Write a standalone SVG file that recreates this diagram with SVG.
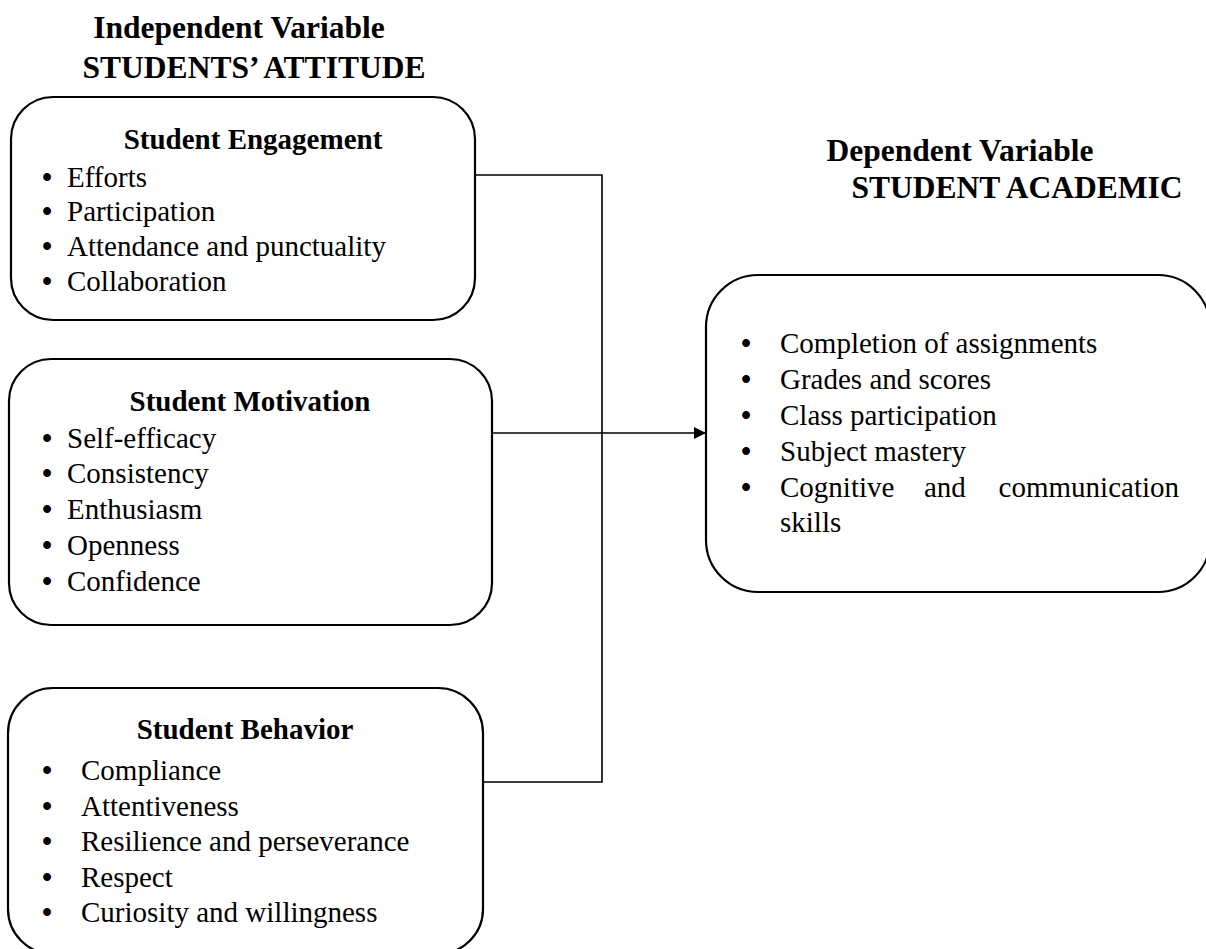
<svg xmlns="http://www.w3.org/2000/svg" width="1206" height="949" viewBox="0 0 1206 949">
<style>
.box{fill:#fff;stroke:#000;stroke-width:2.2}
.t{font-family:"Liberation Serif","Times New Roman",serif;font-size:29px;fill:#000}
.b{font-family:"Liberation Serif","Times New Roman",serif;font-size:29px;font-weight:bold;fill:#000}
.h{font-family:"Liberation Serif","Times New Roman",serif;font-size:29px;font-weight:bold;fill:#000}
.hh{font-family:"Liberation Serif","Times New Roman",serif;font-size:31.5px;font-weight:bold;fill:#000}
.c{stroke:#000;stroke-width:1.6;fill:none}
</style>
<defs>
<marker id="arr" markerWidth="12" markerHeight="12" refX="11" refY="6" orient="auto" markerUnits="userSpaceOnUse">
<path d="M0,0 L12,6 L0,12 Z" fill="#000"/>
</marker>
</defs>
<rect width="1206" height="949" fill="#fff"/>
<g id="heading-independent">
<text class="hh" x="239" y="38" text-anchor="middle">Independent Variable</text>
<text class="hh" x="254" y="78" text-anchor="middle">STUDENTS’ ATTITUDE</text>
</g>
<g id="heading-dependent">
<text class="hh" x="960" y="161" text-anchor="middle">Dependent Variable</text>
<text class="hh" x="1017" y="198" text-anchor="middle">STUDENT ACADEMIC</text>
</g>
<g id="connectors">
<polyline class="c" points="475,175 602,175 602,782 483,782"/>
<line class="c" x1="492" y1="433" x2="705" y2="433" marker-end="url(#arr)"/>
</g>
<g id="node-engagement">
<rect class="box" x="11" y="97" width="464" height="223" rx="42"/>
<text class="h" x="253" y="149" text-anchor="middle">Student Engagement</text>
<g class="b">
<text x="42" y="187">•</text><text x="42" y="221">•</text><text x="42" y="256">•</text><text x="42" y="291">•</text>
</g>
<g class="t">
<text x="67" y="187">Efforts</text>
<text x="67" y="221">Participation</text>
<text x="67" y="256">Attendance and punctuality</text>
<text x="67" y="291">Collaboration</text>
</g>
</g>
<g id="node-motivation">
<rect class="box" x="9" y="359" width="483" height="266" rx="42"/>
<text class="h" x="250" y="411" text-anchor="middle">Student Motivation</text>
<g class="b">
<text x="42" y="448">•</text><text x="42" y="483">•</text><text x="42" y="519">•</text><text x="42" y="555">•</text><text x="42" y="591">•</text>
</g>
<g class="t">
<text x="67" y="448">Self-efficacy</text>
<text x="67" y="483">Consistency</text>
<text x="67" y="519">Enthusiasm</text>
<text x="67" y="555">Openness</text>
<text x="67" y="591">Confidence</text>
</g>
</g>
<g id="node-behavior">
<rect class="box" x="8" y="688" width="475" height="266" rx="45"/>
<text class="h" x="245" y="739" text-anchor="middle">Student Behavior</text>
<g class="b">
<text x="42" y="780">•</text><text x="42" y="816">•</text><text x="42" y="851">•</text><text x="42" y="887">•</text><text x="42" y="922">•</text>
</g>
<g class="t">
<text x="81" y="780">Compliance</text>
<text x="81" y="816">Attentiveness</text>
<text x="81" y="851">Resilience and perseverance</text>
<text x="81" y="887">Respect</text>
<text x="81" y="922">Curiosity and willingness</text>
</g>
</g>
<g id="node-academic">
<rect class="box" x="706" y="275" width="504" height="317" rx="52"/>
<g class="b">
<text x="741" y="353">•</text><text x="741" y="389">•</text><text x="741" y="425">•</text><text x="741" y="461">•</text><text x="741" y="497">•</text>
</g>
<g class="t">
<text x="780" y="353">Completion of assignments</text>
<text x="780" y="389">Grades and scores</text>
<text x="780" y="425">Class participation</text>
<text x="780" y="461">Subject mastery</text>
<text x="780" y="497">Cognitive</text><text x="924" y="497">and</text><text x="1179" y="497" text-anchor="end">communication</text>
<text x="780" y="532">skills</text>
</g>
</g>
</svg>
